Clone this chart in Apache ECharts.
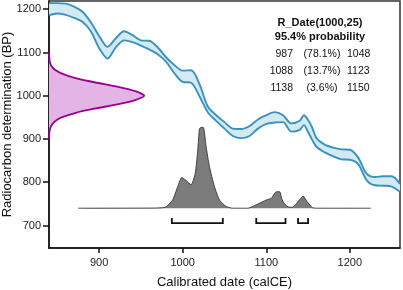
<!DOCTYPE html>
<html>
<head>
<meta charset="utf-8">
<script src="https://cdn.jsdelivr.net/npm/echarts@6/dist/echarts.min.js"></script>
<style>
  html, body { margin: 0; padding: 0; background: #fff; }
  #chart { width: 403px; height: 290px; }
</style>
</head>
<body>
<div id="chart"></div>
<script>
// calibration curve (calCE year, upper / lower BP)
var calYears = [840, 850, 860, 870, 880, 890, 900, 910, 920, 930, 940, 950, 960, 970, 980, 990, 1000, 1010, 1020, 1030, 1040, 1050, 1060, 1070, 1080, 1090, 1100, 1110, 1120, 1130, 1140, 1145, 1150, 1155, 1160, 1170, 1180, 1190, 1200, 1210, 1220, 1230, 1240, 1250, 1260];
var calUpper = [1214, 1214, 1213, 1206, 1194, 1170, 1138, 1113, 1133, 1149, 1140, 1128, 1127, 1112, 1089, 1071, 1058, 1059, 1027, 975, 955, 939, 924, 923, 930, 945, 955, 962, 955, 936, 942, 955, 944, 926, 902, 887, 880, 876, 875, 857, 820, 812, 814, 814, 796];
var calLower = [1186, 1190, 1187, 1180, 1171, 1149, 1110, 1086, 1112, 1128, 1124, 1116, 1107, 1096, 1079, 1052, 1032, 1030, 999, 962, 942, 924, 907, 902, 907, 924, 935, 938, 939, 917, 921, 932, 916, 898, 882, 869, 860, 853, 852, 842, 805, 793, 792, 790, 778];

// measured age R_Date(1000,25): width of the normal curve drawn on the y axis (in years)
var ageBP = [900, 910, 920, 930, 940, 950, 960, 970, 980, 990, 1000, 1010, 1020, 1030, 1040, 1050, 1060, 1070, 1080, 1090, 1100];
var ageWidth = [0, 0.3, 0.8, 2.5, 6.5, 15, 31, 54, 82, 103, 114, 104, 84, 57, 33, 17, 7, 2.5, 0.8, 0.3, 0];

// calibrated distribution (year, height above baseline)
var densYears = [875, 965, 975, 980, 988, 994, 999, 1004, 1010, 1015, 1018, 1020, 1022, 1025, 1028, 1032, 1038, 1044, 1052, 1060, 1078, 1088, 1100, 1106, 1112, 1116, 1119, 1125, 1131, 1135, 1140, 1144, 1149, 1155, 1160, 1225];
var densHeights = [0, 0.3, 1, 3, 19, 50, 71, 64, 54, 81, 134, 183, 187, 186, 142, 96, 50, 19, 4, 0, 0, 8, 19, 23, 38, 38, 19, 4, 2, 8, 20, 28, 15, 1.5, 0, 0];

// 95.4% ranges
var rangeStart = [987, 1088, 1138];
var rangeEnd = [1048, 1123, 1150];
var rangePct = ['78.1%', '13.7%', '3.6%'];

var xTicks = [900, 1000, 1100, 1200];
var yTicks = [700, 800, 900, 1000, 1100, 1200];

var xMin = 840, xMax = 1260, yMin = 648, yMax = 1219;
var densBase = 740;
var bracketY = 705.5, bracketTop = 715;

var FONT = '"Liberation Sans", Arial, Helvetica, sans-serif';

var chart = echarts.init(document.getElementById('chart'), null, { renderer: 'canvas' });

var upperData = calYears.map(function (y, i) { return [y, calUpper[i]]; });
var lowerData = calYears.map(function (y, i) { return [y, calLower[i]]; });
var densData = densYears.map(function (y, i) { return [y, densBase + densHeights[i]]; });

var blue = '#3a92bd';

var series = [
    {
        // band fill between upper and lower curve
        name: 'calBand',
        type: 'custom',
        silent: true,
        data: [[0]],
        z: 2,
        renderItem: function (params, api) {
            var pts = [];
            for (var i = 0; i < calYears.length; i++) pts.push(api.coord([calYears[i], calUpper[i]]));
            for (var j = calYears.length - 1; j >= 0; j--) pts.push(api.coord([calYears[j], calLower[j]]));
            return { type: 'polygon', shape: { points: pts }, style: { fill: '#d3eaf2', stroke: null } };
        }
    },
    {
        name: 'calUpper',
        type: 'line',
        data: upperData,
        symbol: 'none',
        smooth: 0.3,
        silent: true,
        lineStyle: { color: blue, width: 1.9 },
        z: 3
    },
    {
        name: 'calLower',
        type: 'line',
        data: lowerData,
        symbol: 'none',
        smooth: 0.3,
        silent: true,
        lineStyle: { color: blue, width: 1.9 },
        z: 3
    },
    {
        name: 'density',
        type: 'line',
        data: densData,
        symbol: 'none',
        silent: true,
        smooth: 0.2,
        lineStyle: { color: '#333', width: 0.9 },
        areaStyle: { color: '#7b7b7b', opacity: 1, origin: densBase },
        z: 3
    },
    {
        name: 'measured',
        type: 'custom',
        silent: true,
        data: [[0]],
        z: 4,
        renderItem: function (params, api) {
            var pts = [];
            for (var i = 0; i < ageBP.length; i++) {
                pts.push(api.coord([xMin + ageWidth[i], ageBP[i]]));
            }
            var poly = pts.concat([api.coord([xMin, ageBP[ageBP.length - 1]]), api.coord([xMin, ageBP[0]])]);
            return {
                type: 'group',
                children: [
                    { type: 'polygon', shape: { points: poly }, style: { fill: '#e4b5e4', stroke: null } },
                    { type: 'polyline', shape: { points: pts, smooth: 0.2 }, style: { stroke: '#970097', lineWidth: 1.8, fill: null } }
                ]
            };
        }
    }
];

rangeStart.forEach(function (s, i) {
    series.push({
        name: 'range' + i,
        type: 'line',
        data: [[s, bracketTop], [s, bracketY], [rangeEnd[i], bracketY], [rangeEnd[i], bracketTop]],
        symbol: 'none',
        silent: true,
        lineStyle: { color: '#111', width: 1.8, cap: 'square', join: 'miter' },
        z: 4
    });
});

var graphics = [
    { type: 'text', x: 320, y: 23, style: { text: 'R_Date(1000,25)', font: 'bold 11px ' + FONT, fill: '#111', align: 'center', verticalAlign: 'middle' } },
    { type: 'text', x: 320, y: 37, style: { text: '95.4% probability', font: 'bold 11px ' + FONT, fill: '#111', align: 'center', verticalAlign: 'middle' } }
];
rangeStart.forEach(function (s, i) {
    var yy = 54 + i * 17.3;
    graphics.push({ type: 'text', x: 293, y: yy, style: { text: String(s), font: '10.5px ' + FONT, fill: '#111', align: 'right', verticalAlign: 'middle' } });
    graphics.push({ type: 'text', x: 322, y: yy, style: { text: '(' + rangePct[i] + ')', font: '10.5px ' + FONT, fill: '#111', align: 'center', verticalAlign: 'middle' } });
    graphics.push({ type: 'text', x: 347, y: yy, style: { text: String(rangeEnd[i]), font: '10.5px ' + FONT, fill: '#111', align: 'left', verticalAlign: 'middle' } });
});

var axisLineStyle = { color: '#111', width: 1.5 };
var plainLabel = function (v) { return String(v); };

var option = {
    animation: false,
    textStyle: { fontFamily: FONT },
    grid: {
        left: 49, right: 3, top: 1, bottom: 42,
        show: true,
        borderColor: '#333',
        borderWidth: 1.5,
        containLabel: false,
        outerBoundsMode: 'none'
    },
    xAxis: {
        type: 'value',
        min: xMin,
        max: xMax,
        name: 'Calibrated date (calCE)',
        nameLocation: 'middle',
        nameGap: 28,
        nameMoveOverlap: false,
        nameTextStyle: { fontSize: 13, color: '#111' },
        axisLine: { show: true, onZero: false, lineStyle: axisLineStyle },
        axisTick: { show: true, length: 5, customValues: xTicks, lineStyle: axisLineStyle },
        axisLabel: { customValues: xTicks, formatter: plainLabel, fontSize: 11, color: '#222', margin: 9 },
        splitLine: { show: false }
    },
    yAxis: {
        type: 'value',
        min: yMin,
        max: yMax,
        name: 'Radiocarbon determination (BP)',
        nameLocation: 'middle',
        nameGap: 35,
        nameMoveOverlap: false,
        nameTextStyle: { fontSize: 13, color: '#111' },
        axisLine: { show: true, onZero: false, lineStyle: axisLineStyle },
        axisTick: { show: true, length: 6, customValues: yTicks, lineStyle: axisLineStyle },
        axisLabel: { customValues: yTicks, formatter: plainLabel, fontSize: 11, color: '#222', margin: 8 },
        splitLine: { show: false }
    },
    graphic: graphics,
    series: series
};

chart.setOption(option);
</script>
</body>
</html>
